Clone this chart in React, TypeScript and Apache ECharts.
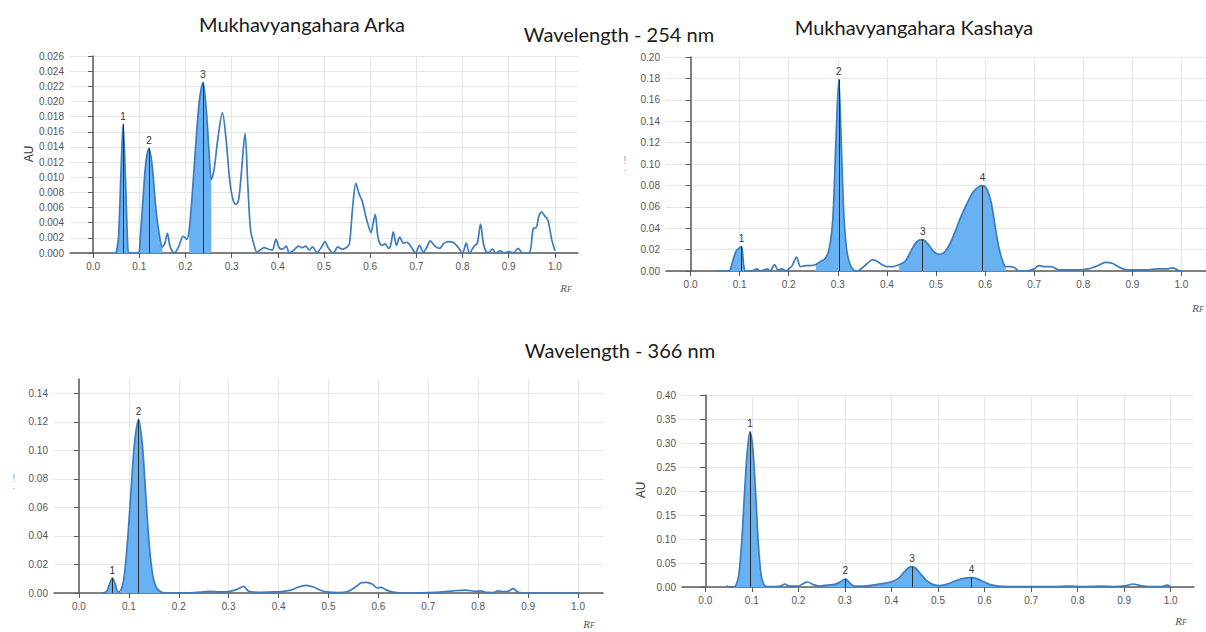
import React, { useEffect, useRef } from "react";
import * as echarts from "echarts";

// ---------- DATA (Rf, AU) ----------
const arka254Trace: number[][] = [
  [0.050, 0], [0.055, 0.002], [0.060, 0.010], [0.065, 0.017], [0.070, 0.010], [0.075, 0.001], [0.078, 0],
  [0.098, 0], [0.102, 0.002], [0.108, 0.007], [0.114, 0.0118], [0.121, 0.0138], [0.128, 0.0115], [0.135, 0.0065],
  [0.142, 0.003], [0.150, 0.0008], [0.155, 0.0012], [0.161, 0.0026], [0.167, 0.0008], [0.176, 0], [0.185, 0.0008],
  [0.195, 0.0022], [0.203, 0.0018], [0.208, 0.003], [0.215, 0.008], [0.222, 0.014], [0.230, 0.020], [0.238, 0.0225],
  [0.245, 0.019], [0.251, 0.0135], [0.256, 0.0097], [0.262, 0.011], [0.270, 0.015], [0.280, 0.0185], [0.288, 0.015],
  [0.296, 0.0095], [0.303, 0.007], [0.309, 0.0064], [0.315, 0.007], [0.321, 0.0105], [0.329, 0.0158], [0.335, 0.009],
  [0.341, 0.003], [0.348, 0.0012], [0.355, 0.0001], [0.362, 0.0004], [0.370, 0.0007], [0.380, 0.0005], [0.388, 0.0004],
  [0.396, 0.0018], [0.403, 0.0007], [0.410, 0.0005], [0.418, 0.0009], [0.425, 0], [0.435, 0.0004], [0.445, 0.0009],
  [0.452, 0.0007], [0.460, 0.0009], [0.468, 0.0004], [0.475, 0.0008], [0.485, 0.0001], [0.495, 0.0008], [0.502, 0.0015],
  [0.510, 0.0006], [0.520, 0], [0.530, 0.0008], [0.538, 0.0005], [0.548, 0.0007], [0.555, 0.0012], [0.562, 0.006],
  [0.569, 0.0092], [0.576, 0.0078], [0.583, 0.0068], [0.592, 0.0045], [0.602, 0.0027], [0.606, 0.0038], [0.611, 0.0051],
  [0.617, 0.002], [0.625, 0.001], [0.632, 0.0012], [0.640, 0.0006], [0.645, 0.0012], [0.650, 0.0028], [0.657, 0.001],
  [0.664, 0.0021], [0.672, 0.0013], [0.680, 0.0014], [0.690, 0.0007], [0.698, 0], [0.707, 0.001], [0.715, 0.0001],
  [0.723, 0.0008], [0.730, 0.0016], [0.740, 0.0009], [0.750, 0.0006], [0.760, 0.0013], [0.770, 0.0015], [0.780, 0.0014],
  [0.790, 0.0008], [0.800, 0], [0.808, 0.0013], [0.815, 0], [0.825, 0.0009], [0.832, 0.0013], [0.839, 0.0038],
  [0.846, 0.001], [0.855, 0], [0.865, 0.0005], [0.872, 0], [0.882, 0.0003], [0.890, 0], [0.900, 0.0002], [0.910, 0],
  [0.920, 0.0006], [0.930, 0], [0.945, 0.0001], [0.953, 0.0032], [0.960, 0.0034], [0.965, 0.0048], [0.971, 0.0054],
  [0.978, 0.0049], [0.985, 0.0043], [0.993, 0.0018], [1.000, 0.0003],
];
const arka254Fills: number[][] = [[0.05, 0.078], [0.205, 0.256], [0.098, 0.150]];
const arka254PeakRf = [0.065, 0.121, 0.238];
const arka254PeakAu = [0.017, 0.0138, 0.0225];

const kashaya254Trace: number[][] = [
  [0.052, 0], [0.078, 0], [0.085, 0.008], [0.092, 0.018], [0.098, 0.021], [0.104, 0.0228], [0.108, 0.006], [0.112, 0],
  [0.120, 0], [0.128, 0.0005], [0.135, 0.002], [0.142, 0], [0.150, 0.001], [0.156, 0.002], [0.162, 0], [0.171, 0.006],
  [0.178, 0.001], [0.186, 0.002], [0.195, 0], [0.200, 0.002], [0.207, 0.005], [0.216, 0.013], [0.224, 0.004],
  [0.235, 0.005], [0.245, 0.005], [0.255, 0.006], [0.265, 0.009], [0.275, 0.012], [0.283, 0.022], [0.290, 0.05],
  [0.296, 0.12], [0.302, 0.179], [0.307, 0.12], [0.312, 0.055], [0.318, 0.02], [0.325, 0.006], [0.332, 0.001],
  [0.340, 0], [0.350, 0.003], [0.360, 0.007], [0.371, 0.0106], [0.380, 0.009], [0.390, 0.006], [0.400, 0.004],
  [0.412, 0.004], [0.425, 0.006], [0.437, 0.009], [0.447, 0.017], [0.458, 0.026], [0.466, 0.029], [0.473, 0.0294],
  [0.482, 0.026], [0.492, 0.02], [0.500, 0.0165], [0.508, 0.0156], [0.518, 0.018], [0.528, 0.025], [0.540, 0.038],
  [0.552, 0.052], [0.564, 0.064], [0.576, 0.074], [0.588, 0.079], [0.595, 0.0797], [0.603, 0.077], [0.612, 0.065],
  [0.620, 0.043], [0.628, 0.022], [0.636, 0.009], [0.642, 0.004], [0.650, 0.004], [0.660, 0.003], [0.670, 0],
  [0.685, 0], [0.700, 0.002], [0.710, 0.005], [0.722, 0.004], [0.735, 0.004], [0.750, 0.001], [0.770, 0.001],
  [0.790, 0.001], [0.810, 0.002], [0.830, 0.005], [0.845, 0.008], [0.860, 0.007], [0.875, 0.003], [0.890, 0.001],
  [0.910, 0.001], [0.930, 0.001], [0.950, 0.002], [0.970, 0.002], [0.982, 0.003], [0.992, 0.001], [1.000, 0],
];
const kashaya254Fills: number[][] = [[0.078, 0.112], [0.255, 0.332], [0.425, 0.642]];
const kashaya254PeakRf = [0.104, 0.302, 0.473, 0.595];
const kashaya254PeakAu = [0.0228, 0.179, 0.0294, 0.0797];

const arka366Trace: number[][] = [
  [0.045, 0], [0.055, 0.001], [0.061, 0.006], [0.067, 0.0105], [0.073, 0.006], [0.078, 0.0008], [0.084, 0.002],
  [0.090, 0.01], [0.097, 0.035], [0.104, 0.07], [0.111, 0.104], [0.1196, 0.1218], [0.127, 0.104], [0.134, 0.068],
  [0.141, 0.033], [0.148, 0.012], [0.155, 0.004], [0.163, 0.001], [0.172, 0], [0.200, 0], [0.230, 0.0003],
  [0.250, 0.0008], [0.265, 0.0012], [0.280, 0.0008], [0.300, 0.001], [0.318, 0.0028], [0.330, 0.0047], [0.340, 0.0012],
  [0.360, 0.0005], [0.390, 0.0008], [0.410, 0.0012], [0.425, 0.002], [0.440, 0.0042], [0.455, 0.0054], [0.470, 0.0042],
  [0.485, 0.0018], [0.500, 0.0006], [0.520, 0.0003], [0.540, 0.0012], [0.555, 0.0045], [0.566, 0.0072], [0.576, 0.0075],
  [0.588, 0.0062], [0.598, 0.0035], [0.606, 0.004], [0.615, 0.0022], [0.630, 0.0006], [0.650, 0], [0.700, 0.0003],
  [0.730, 0.0008], [0.750, 0.0015], [0.775, 0.002], [0.795, 0.0012], [0.805, 0.0015], [0.815, 0.0004], [0.830, 0.0003],
  [0.840, 0.0015], [0.850, 0.001], [0.860, 0.0012], [0.870, 0.003], [0.880, 0.0005], [0.900, 0], [1.000, 0],
];
const arka366Fills: number[][] = [[0.055, 0.078], [0.084, 0.172]];
const arka366PeakRf = [0.067, 0.1196];
const arka366PeakAu = [0.0105, 0.1218];

const kashaya366Trace: number[][] = [
  [0.046, 0.003], [0.050, 0], [0.060, 0], [0.066, 0.004], [0.072, 0.025], [0.078, 0.09], [0.084, 0.19], [0.090, 0.28],
  [0.096, 0.3234], [0.102, 0.29], [0.108, 0.2], [0.114, 0.09], [0.120, 0.025], [0.126, 0.005], [0.132, 0.001],
  [0.150, 0.001], [0.162, 0.002], [0.171, 0.0063], [0.180, 0.002], [0.200, 0.002], [0.212, 0.008], [0.220, 0.0104],
  [0.232, 0.005], [0.245, 0.002], [0.262, 0.004], [0.280, 0.006], [0.292, 0.012], [0.301, 0.0167], [0.310, 0.009],
  [0.320, 0.002], [0.340, 0.002], [0.360, 0.004], [0.380, 0.007], [0.400, 0.011], [0.415, 0.018], [0.428, 0.032],
  [0.437, 0.04], [0.444, 0.0424], [0.452, 0.039], [0.462, 0.028], [0.475, 0.014], [0.490, 0.005], [0.505, 0.003],
  [0.520, 0.006], [0.535, 0.012], [0.550, 0.017], [0.562, 0.019], [0.572, 0.0195], [0.585, 0.017], [0.598, 0.011],
  [0.612, 0.005], [0.630, 0.002], [0.650, 0.001], [0.700, 0.001], [0.750, 0.001], [0.780, 0.002], [0.810, 0.001],
  [0.850, 0.002], [0.880, 0.001], [0.905, 0.003], [0.919, 0.0063], [0.935, 0.003], [0.955, 0.001], [0.980, 0.001],
  [0.993, 0.004], [1.000, 0],
];
const kashaya366Fills: number[][] = [[0.06, 0.132], [0.262, 0.32], [0.36, 0.505], [0.505, 0.65]];
const kashaya366PeakRf = [0.096, 0.301, 0.444, 0.572];
const kashaya366PeakAu = [0.3234, 0.0167, 0.0424, 0.0195];

const panelTitles = ["Mukhavyangahara Arka", "Mukhavyangahara Kashaya"];
const wavelengthTitles = ["Wavelength - 254 nm", "Wavelength - 366 nm"];
const yMax = [0.026, 0.2, 0.15, 0.4];
const yInterval = [0.002, 0.02, 0.02, 0.05];
const yDecimals = [3, 2, 2, 2];

// ---------- LAYOUT ----------
const grids = [
  { left: 70, top: 56, width: 508, height: 197 },
  { left: 666, top: 57, width: 545, height: 214 },
  { left: 54, top: 379, width: 549, height: 214 },
  { left: 682, top: 395, width: 512, height: 192 },
];

const LINE = "#3b7cbf";
const FILL = "#68b2f4";
const AXIS = "#5a5a5a";
const GRIDC = "#e6e6e6";
const TICKFONT = "Liberation Sans";

function buildOption() {
  const traces = [arka254Trace, kashaya254Trace, arka366Trace, kashaya366Trace];
  const fills = [arka254Fills, kashaya254Fills, arka366Fills, kashaya366Fills];
  const peakRf = [arka254PeakRf, kashaya254PeakRf, arka366PeakRf, kashaya366PeakRf];
  const peakAu = [arka254PeakAu, kashaya254PeakAu, arka366PeakAu, kashaya366PeakAu];
  const peakNums = [[1, 2, 3], [1, 2, 3, 4], [1, 2], [1, 2, 3, 4]];

  const series: any[] = [];
  traces.forEach((trace, i) => {
    fills[i].forEach((rng) => {
      series.push({
        type: "line",
        xAxisIndex: i,
        yAxisIndex: i,
        data: trace.filter((p) => p[0] >= rng[0] - 1e-9 && p[0] <= rng[1] + 1e-9),
        smooth: 0.3,
        symbol: "none",
        silent: true,
        lineStyle: { width: 0, opacity: 0 },
        areaStyle: { color: FILL, opacity: 1 },
        z: 2,
      });
    });
    series.push({
      type: "line",
      xAxisIndex: i,
      yAxisIndex: i,
      data: trace,
      smooth: 0.3,
      symbol: "none",
      silent: true,
      lineStyle: { color: LINE, width: 1.7 },
      z: 3,
      markLine: {
        silent: true,
        symbol: ["none", "none"],
        lineStyle: { color: "#2b2b2b", width: 1, type: "solid" },
        label: { show: true, position: "end", fontSize: 10, color: "#333", fontFamily: TICKFONT, distance: 3 },
        data: peakRf[i].map((rf, k) => [
          { coord: [rf, 0] },
          { coord: [rf, peakAu[i][k]], label: { formatter: String(peakNums[i][k]) } },
        ]),
      },
    });
  });

  const xAxis = grids.map((_, i) => ({
    type: "value",
    gridIndex: i,
    min: -0.05,
    max: 1.05,
    splitNumber: 11,
    axisLine: { show: true, onZero: false, lineStyle: { color: AXIS, width: 1.5 } },
    axisTick: { show: true, length: 5, lineStyle: { color: AXIS } },
    axisLabel: {
      show: true,
      showMinLabel: false,
      showMaxLabel: false,
      fontSize: 10,
      color: "#555",
      fontFamily: TICKFONT,
      margin: 8,
      formatter: (v: number) => v.toFixed(1),
    },
    splitLine: { show: true, showMinLine: false, showMaxLine: false, lineStyle: { color: GRIDC, width: 1 } },
  }));

  const yAxis = grids.map((_, i) => ({
    type: "value",
    gridIndex: i,
    min: 0,
    max: yMax[i],
    interval: yInterval[i],
    axisLine: { show: true, lineStyle: { color: AXIS, width: 1.5 } },
    axisTick: { show: true, length: 5, lineStyle: { color: AXIS } },
    axisLabel: {
      show: true,
      fontSize: 10,
      color: "#555",
      fontFamily: TICKFONT,
      margin: 6,
      showMaxLabel: i !== 2,
      formatter: (v: number) => v.toFixed(yDecimals[i]),
    },
    splitLine: { show: true, showMaxLine: i !== 2, lineStyle: { color: GRIDC, width: 1 } },
  }));

  const titleFont = { fontFamily: "Lato", fontSize: 20, fill: "#1a1a1a" };
  const txt = (text: string, x: number, y: number, extra: any = {}, rotation = 0) => ({
    type: "text",
    x,
    y,
    rotation,
    silent: true,
    style: { text, align: "center", verticalAlign: "middle", ...titleFont, ...extra },
  });
  const rf = (x: number, y: number) => ({
    type: "text",
    x,
    y,
    silent: true,
    style: {
      text: "{a|R}{b|F}",
      align: "center",
      verticalAlign: "middle",
      rich: {
        a: { fontSize: 11, fontStyle: "italic", fontFamily: "Liberation Serif", fill: "#555", verticalAlign: "bottom", lineHeight: 12 },
        b: { fontSize: 8, fontStyle: "italic", fontFamily: "Liberation Serif", fill: "#555", verticalAlign: "bottom", lineHeight: 12 },
      },
    },
  });

  const faint = { fontFamily: TICKFONT, fontSize: 10, fill: "#999" };
  const graphic = [
    txt(panelTitles[0], 302, 24),
    txt(panelTitles[1], 914, 27),
    txt(wavelengthTitles[0], 619, 34),
    txt(wavelengthTitles[1], 620, 350),
    txt("AU", 29, 154, { fontFamily: TICKFONT, fontSize: 12, fill: "#333" }, Math.PI / 2),
    txt("AU", 641, 490, { fontFamily: TICKFONT, fontSize: 12, fill: "#333" }, Math.PI / 2),
    txt("!", 625, 160, faint),
    txt("·", 625, 170, faint),
    txt("!", 14, 478, faint),
    txt("·", 14, 488, faint),
    rf(566, 287),
    rf(1198, 307),
    rf(589, 623),
    rf(1181, 620),
  ];

  return {
    animation: false,
    backgroundColor: "#ffffff",
    grid: grids.map((g) => ({ ...g, containLabel: false })),
    xAxis,
    yAxis,
    series,
    graphic,
  };
}

export default function App() {
  const ref = useRef<HTMLDivElement>(null);
  useEffect(() => {
    if (!ref.current) return;
    const chart = echarts.init(ref.current, undefined, { renderer: "svg" });
    chart.setOption(buildOption() as any);
    return () => chart.dispose();
  }, []);
  return (
    <div
      ref={ref}
      style={{ position: "absolute", left: 0, top: 0, width: 1206, height: 632, background: "#fff" }}
    />
  );
}
